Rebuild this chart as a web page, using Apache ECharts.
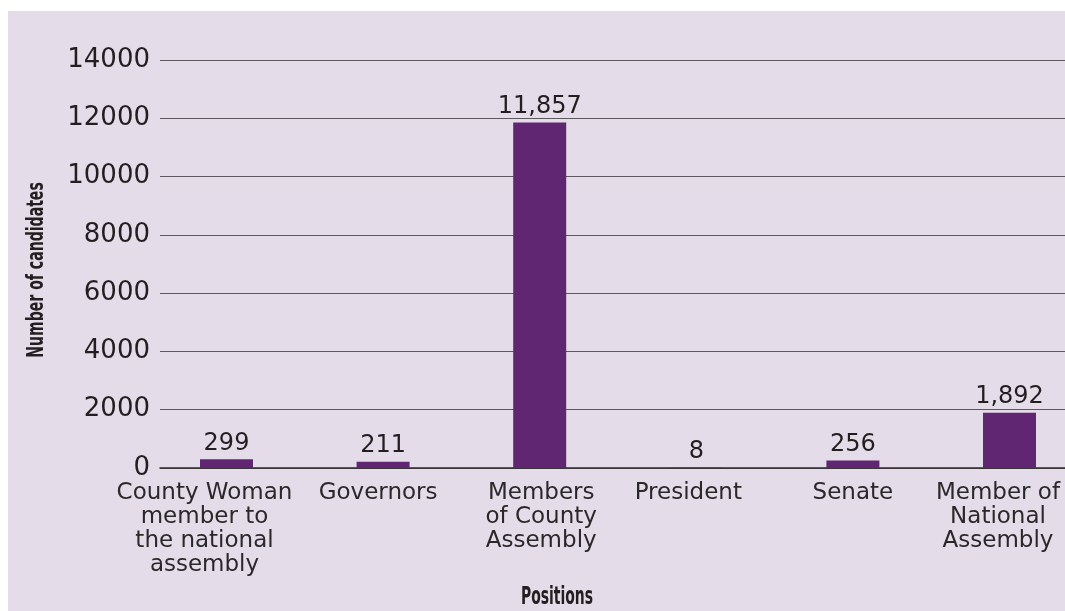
<!DOCTYPE html>
<html>
<head>
<meta charset="utf-8">
<script src="https://cdn.jsdelivr.net/npm/echarts@6/dist/echarts.min.js"></script>
<style>
  html, body { margin: 0; padding: 0; background: #ffffff; width: 1065px; height: 611px; overflow: hidden; }
  #chart { position: absolute; left: 8px; top: 11px; width: 1057px; height: 600px; background: #e4dce8; }
</style>
</head>
<body>
<div id="chart"></div>
<script>
// Candidates registered per elective position
const positions = [
  'County Woman\nmember to\nthe national\nassembly',
  'Governors',
  'Members\nof County\nAssembly',
  'President',
  'Senate',
  'Member of\nNational\nAssembly'
];
const candidates = [299, 211, 11857, 8, 256, 1892];

// Value axis range and step
const yMin = 0;
const yMax = 14000;
const yStep = 2000;

const axisTitle = 'Number of candidates';
const categoryTitle = 'Positions';

const numFmt = new Intl.NumberFormat('en-US');
const bodyFont = 'DejaVu Sans';
const condensedFont = '"DejaVu Sans Condensed", "Liberation Sans Narrow", sans-serif';

// horizontal nudge (px) of each category caption off its bar centre,
// so the long captions stay clear of their neighbours and the edge
const captionNudge = [-22, -5, 1.5, -8, 0, -11.5];

const captionRich = {};
captionNudge.forEach((s, i) => {
  captionRich['c' + i] = {
    color: '#2b2829',
    fontFamily: bodyFont,
    fontSize: 23,
    lineHeight: 24,
    padding: s < 0 ? [0, -2 * s, 0, 0] : [0, 0, 0, 2 * s]
  };
});

const chart = echarts.init(document.getElementById('chart'), null, { renderer: 'canvas' });

chart.setOption({
  backgroundColor: 'transparent',
  animation: false,
  grid: [
    // grid carrying the value axis and its rules
    { left: 152, right: 0, top: 49, bottom: 143, outerBoundsMode: 'none' },
    // grid carrying the bars, bands spread a little wider than the rules
    { left: 140.2, right: -22.8, top: 49, bottom: 143, outerBoundsMode: 'none' }
  ],
  xAxis: [
    {
      gridIndex: 0,
      type: 'value',
      min: 0,
      max: 1,
      axisLine: { show: true, onZero: false, lineStyle: { color: '#2e2a2c', width: 1.5 } },
      axisTick: { show: false },
      axisLabel: { show: false },
      splitLine: { show: false }
    },
    {
      gridIndex: 1,
      type: 'category',
      data: positions,
      axisLine: { show: false },
      axisTick: { show: false },
      axisLabel: {
        interval: 0,
        margin: 13,
        align: 'center',
        formatter: (value, idx) =>
          value.split('\n').map(line => '{c' + idx + '|' + line + '}').join('\n'),
        rich: captionRich
      }
    }
  ],
  yAxis: [
    {
      gridIndex: 0,
      type: 'value',
      min: yMin,
      max: yMax,
      interval: yStep,
      axisLine: { show: false },
      axisTick: { show: false },
      axisLabel: {
        margin: 10,
        color: '#231f20',
        fontFamily: bodyFont,
        fontSize: 26,
        padding: [0, 0, 9, 0],
        formatter: v => String(v)
      },
      splitLine: { show: true, lineStyle: { color: '#5c585c', width: 1.2 } }
    },
    {
      gridIndex: 1,
      type: 'value',
      min: yMin,
      max: yMax,
      interval: yStep,
      show: false,
      splitLine: { show: false }
    }
  ],
  series: [
    {
      type: 'bar',
      xAxisIndex: 1,
      yAxisIndex: 1,
      data: candidates,
      barWidth: 53,
      itemStyle: { color: '#612671' },
      label: {
        show: true,
        position: 'top',
        distance: 4,
        color: '#231f20',
        fontFamily: bodyFont,
        fontSize: 24,
        formatter: p => numFmt.format(p.value)
      }
    }
  ],
  graphic: [
    {
      type: 'text',
      x: 29,
      y: 259,
      rotation: Math.PI / 2,
      scaleX: 0.68,
      style: {
        text: axisTitle,
        fill: '#231f20',
        font: 'bold 23px ' + condensedFont,
        textAlign: 'center',
        textVerticalAlign: 'middle'
      }
    },
    {
      type: 'text',
      x: 549,
      y: 586,
      scaleX: 0.62,
      style: {
        text: categoryTitle,
        fill: '#231f20',
        font: 'bold 25px ' + condensedFont,
        textAlign: 'center',
        textVerticalAlign: 'middle'
      }
    }
  ]
});
</script>
</body>
</html>
